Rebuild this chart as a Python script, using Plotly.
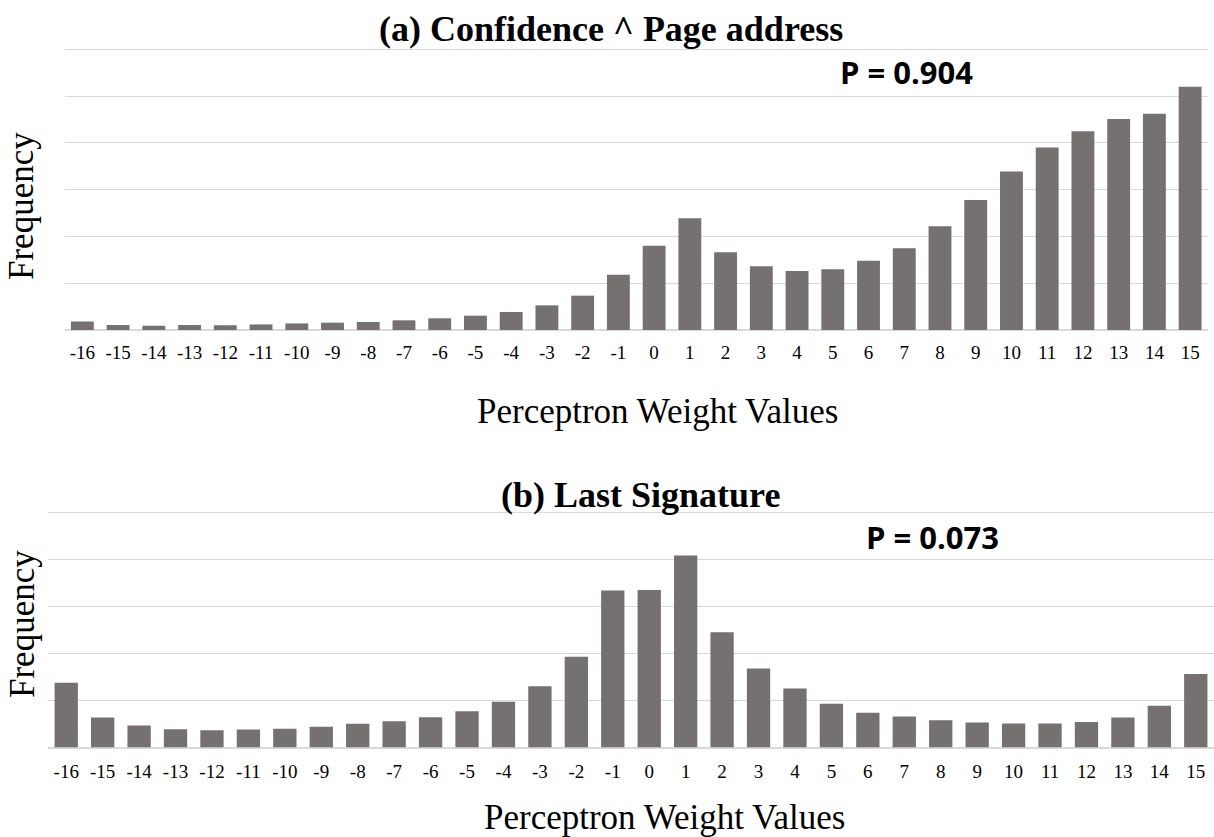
import plotly.graph_objects as go

W, H = 1214, 837

weights = [str(v) for v in range(-16, 16)]

# (a) Confidence ^ Page address
freq_a = [0.18, 0.107, 0.093, 0.107, 0.10, 0.12, 0.14, 0.157, 0.171, 0.207, 0.25, 0.306,
          0.385, 0.527, 0.734, 1.18, 1.80, 2.39, 1.66, 1.36, 1.26, 1.30, 1.48, 1.75,
          2.22, 2.78, 3.39, 3.90, 4.25, 4.51, 4.62, 5.20]

# (b) Last Signature
freq_b = [1.376, 0.638, 0.468, 0.39, 0.369, 0.383, 0.397, 0.44, 0.504, 0.56, 0.645, 0.773,
          0.97, 1.30, 1.93, 3.34, 3.35, 4.08, 2.45, 1.68, 1.255, 0.93, 0.74, 0.66,
          0.58, 0.53, 0.51, 0.51, 0.54, 0.64, 0.89, 1.56]

titles = ["(a) Confidence ^ Page address", "(b) Last Signature"]
p_labels = ["P = 0.904", "P = 0.073"]
x_title = "Perceptron Weight Values"
y_title = "Frequency"

BAR = "#767171"
GRID = "#d9d9d9"
SERIF = "Liberation Serif, Times New Roman, serif"
SANS = "Open Sans, Noto Sans, sans-serif"

def px_x(p):
    return p / W

def px_y(p):
    return 1 - p / H

fig = go.Figure()
fig.add_trace(go.Bar(x=weights, y=freq_a, marker=dict(color=BAR, line=dict(width=0)),
                     xaxis="x", yaxis="y", showlegend=False))
fig.add_trace(go.Bar(x=weights, y=freq_b, marker=dict(color=BAR, line=dict(width=0)),
                     xaxis="x2", yaxis="y2", showlegend=False))

common_x = dict(type="category", showgrid=False, showline=False, ticks="",
                tickfont=dict(family=SERIF, size=19, color="#000000"), fixedrange=True)
common_y = dict(showticklabels=False, showgrid=True, gridcolor=GRID, gridwidth=1,
                zeroline=True, zerolinecolor=GRID, zerolinewidth=1.5, dtick=1, ticks="",
                fixedrange=True)

unit_a = (330 - 49.3) / 6
unit_b = (747.5 - 512.3) / 5

fig.update_layout(
    width=W, height=H,
    margin=dict(l=0, r=0, t=0, b=0),
    paper_bgcolor="white", plot_bgcolor="white",
    bargap=0.36,
    xaxis=dict(domain=[px_x(64.5), px_x(1208)], anchor="y", ticklabelstandoff=9, **common_x),
    yaxis=dict(domain=[px_y(330), px_y(47.3)], range=[0, 6 + 2 / unit_a], anchor="x", **common_y),
    xaxis2=dict(domain=[px_x(48), px_x(1214)], anchor="y2", ticklabelstandoff=10, **common_x),
    yaxis2=dict(domain=[px_y(747.5), px_y(510.3)], range=[0, 5 + 2 / unit_b], anchor="x2", **common_y),
)

ann = []
# titles
ann.append(dict(text="<b>%s</b>" % titles[0], x=px_x(611), y=px_y(29), xref="paper", yref="paper",
                showarrow=False, xanchor="center", yanchor="middle",
                font=dict(family=SERIF, size=36, color="#000000")))
ann.append(dict(text="<b>%s</b>" % titles[1], x=px_x(640), y=px_y(495), xref="paper", yref="paper",
                showarrow=False, xanchor="center", yanchor="middle",
                font=dict(family=SERIF, size=36, color="#000000")))
# P labels
ann.append(dict(text="<b>%s</b>" % p_labels[0], x=px_x(906), y=px_y(72), xref="paper", yref="paper",
                showarrow=False, xanchor="center", yanchor="middle",
                font=dict(family=SANS, size=31, color="#000000")))
ann.append(dict(text="<b>%s</b>" % p_labels[1], x=px_x(932), y=px_y(537), xref="paper", yref="paper",
                showarrow=False, xanchor="center", yanchor="middle",
                font=dict(family=SANS, size=31, color="#000000")))
# axis titles
for yc in (206, 624):
    ann.append(dict(text=y_title, x=px_x(22), y=px_y(yc), xref="paper", yref="paper",
                    showarrow=False, xanchor="center", yanchor="middle", textangle=-90,
                    font=dict(family=SERIF, size=35, color="#000000")))
for xc, yc in ((657, 411), (664, 817)):
    ann.append(dict(text=x_title, x=px_x(xc), y=px_y(yc), xref="paper", yref="paper",
                    showarrow=False, xanchor="center", yanchor="middle",
                    font=dict(family=SERIF, size=35, color="#000000")))
fig.update_layout(annotations=ann)

fig.write_html("out.html", config={"displayModeBar": False},
               post_script="document.body.style.margin='0';document.body.style.overflow='hidden';")
